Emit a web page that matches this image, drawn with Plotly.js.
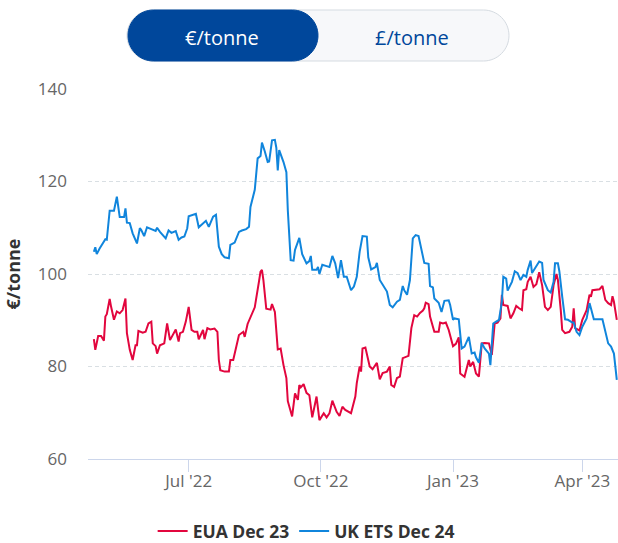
<!DOCTYPE html>
<html>
<head>
<meta charset="utf-8">
<script src="https://cdn.plot.ly/plotly-3.0.1.min.js"></script>
<style>
  html, body { margin: 0; padding: 0; background: #ffffff; }
  #chart { width: 618px; height: 543px; }
</style>
</head>
<body>
<div id="chart"></div>
<script>
// ---- Data ----
const euaName = 'EUA Dec 23';
const ukName = 'UK ETS Dec 24';
const unitButtons = ['€/tonne', '£/tonne'];
const yAxisTitle = '€/tonne';
const yTickValues = [60, 80, 100, 120, 140];
const xTickValues = ['2022-07-01', '2022-10-01', '2023-01-01', '2023-04-01'];
const xTickLabels = ["Jul '22", "Oct '22", "Jan '23", "Apr '23"];

const euaDates = [
 '2022-04-26','2022-04-27','2022-04-29','2022-05-01','2022-05-03','2022-05-04','2022-05-05','2022-05-07','2022-05-08','2022-05-10',
 '2022-05-12','2022-05-14','2022-05-16','2022-05-18','2022-05-19','2022-05-21','2022-05-23','2022-05-25','2022-05-26','2022-05-27',
 '2022-05-30','2022-06-01','2022-06-03','2022-06-05','2022-06-06','2022-06-08','2022-06-09','2022-06-11','2022-06-14','2022-06-16',
 '2022-06-18','2022-06-20','2022-06-22','2022-06-24','2022-06-25','2022-06-27','2022-06-29','2022-07-01','2022-07-03','2022-07-05',
 '2022-07-07','2022-07-08','2022-07-11','2022-07-12','2022-07-14','2022-07-16','2022-07-19','2022-07-21','2022-07-22','2022-07-23',
 '2022-07-26','2022-07-29','2022-07-30','2022-08-01','2022-08-03','2022-08-05','2022-08-08','2022-08-09','2022-08-11','2022-08-14',
 '2022-08-16','2022-08-19','2022-08-20','2022-08-21','2022-08-22','2022-08-24','2022-08-27','2022-08-28','2022-08-30','2022-09-01',
 '2022-09-03','2022-09-05','2022-09-07','2022-09-08','2022-09-11','2022-09-13','2022-09-15','2022-09-16','2022-09-17','2022-09-19',
 '2022-09-21','2022-09-23','2022-09-24','2022-09-25','2022-09-27','2022-09-28','2022-09-30','2022-10-03','2022-10-05','2022-10-07',
 '2022-10-09','2022-10-12','2022-10-14','2022-10-16','2022-10-18','2022-10-21','2022-10-22','2022-10-25','2022-10-26','2022-10-28',
 '2022-10-29','2022-10-30','2022-11-01','2022-11-04','2022-11-06','2022-11-09','2022-11-11','2022-11-13','2022-11-16','2022-11-18',
 '2022-11-19','2022-11-21','2022-11-23','2022-11-25','2022-11-27','2022-12-01','2022-12-03','2022-12-05','2022-12-07','2022-12-09',
 '2022-12-11','2022-12-12','2022-12-13','2022-12-15','2022-12-16','2022-12-18','2022-12-19','2022-12-22','2022-12-23','2022-12-25',
 '2022-12-27','2022-12-29','2023-01-01','2023-01-03','2023-01-05','2023-01-06','2023-01-08','2023-01-09','2023-01-12','2023-01-13',
 '2023-01-15','2023-01-17','2023-01-19','2023-01-21','2023-01-23','2023-01-26','2023-01-28','2023-01-30','2023-02-01','2023-02-03',
 '2023-02-04','2023-02-05','2023-02-08','2023-02-10','2023-02-12','2023-02-14','2023-02-16','2023-02-18','2023-02-19','2023-02-21',
 '2023-02-22','2023-02-24','2023-02-26','2023-02-28','2023-03-02','2023-03-04','2023-03-06','2023-03-08','2023-03-10','2023-03-12',
 '2023-03-14','2023-03-15','2023-03-17','2023-03-18','2023-03-20','2023-03-23','2023-03-25','2023-03-26','2023-03-27','2023-03-30',
 '2023-04-01','2023-04-04','2023-04-06','2023-04-07','2023-04-08','2023-04-11','2023-04-13','2023-04-15','2023-04-17','2023-04-19',
 '2023-04-21','2023-04-22','2023-04-23','2023-04-25'
];
const euaValues = [
 85.9,83.6,86.6,86.6,85.6,90.8,91.3,94.6,92.9,90.1,
 91.9,91.5,92.2,94.7,87.2,83.6,81.4,84.6,84.6,87.7,
 87.3,87.5,89.3,89.7,85.0,84.4,82.8,84.6,85.0,89.3,
 85.7,86.8,88.0,85.4,87.2,87.5,89.7,92.9,87.9,87.5,
 87.5,85.9,87.9,85.9,88.3,88.0,88.2,87.5,81.4,79.2,
 78.9,78.9,81.4,81.4,84.3,86.8,87.5,86.4,89.2,91.5,
 92.8,98.5,100.5,100.9,98.7,92.5,92.3,93.5,91.8,83.7,
 83.9,80.3,77.5,72.5,69.2,74.2,72.8,76.0,75.5,76.2,
 74.3,73.8,71.3,69.0,72.0,73.5,68.4,69.9,69.0,69.9,
 72.6,70.2,69.3,71.3,70.6,70.2,69.9,73.5,76.4,80.0,
 78.9,83.9,84.1,80.0,79.4,80.8,77.2,78.6,78.9,80.0,
 76.0,75.6,77.5,77.8,81.8,82.3,88.3,91.1,90.8,91.6,
 92.1,92.6,93.8,93.5,90.8,88.6,87.5,87.5,89.5,89.3,
 89.5,87.9,84.4,84.9,86.3,78.5,77.9,77.8,81.4,80.0,
 81.0,78.5,77.8,85.0,85.1,85.0,82.5,89.3,89.5,90.4,
 95.5,93.3,93.1,90.4,91.5,93.1,92.6,92.2,96.5,96.7,
 98.3,99.4,97.2,97.8,100.4,97.6,92.9,92.2,92.9,97.6,
 100.0,98.7,92.2,87.9,87.2,87.5,88.6,92.6,88.3,87.8,
 90.1,92.2,95.5,95.1,96.5,96.7,96.7,97.4,94.4,93.7,
 93.3,95.2,94.0,90.1
];

const ukDates = [
 '2022-04-26','2022-04-27','2022-04-28','2022-04-30','2022-05-04','2022-05-05','2022-05-07','2022-05-10','2022-05-12','2022-05-14',
 '2022-05-17','2022-05-18','2022-05-19','2022-05-21','2022-05-23','2022-05-26','2022-05-28','2022-05-29','2022-05-31','2022-06-02',
 '2022-06-05','2022-06-08','2022-06-09','2022-06-11','2022-06-15','2022-06-17','2022-06-19','2022-06-22','2022-06-24','2022-06-26',
 '2022-06-28','2022-06-30','2022-07-01','2022-07-04','2022-07-06','2022-07-08','2022-07-11','2022-07-13','2022-07-15','2022-07-18',
 '2022-07-20','2022-07-22','2022-07-24','2022-07-26','2022-07-29','2022-07-30','2022-08-02','2022-08-03','2022-08-05','2022-08-07',
 '2022-08-10','2022-08-12','2022-08-13','2022-08-16','2022-08-18','2022-08-20','2022-08-21','2022-08-23','2022-08-25','2022-08-26',
 '2022-08-28','2022-08-30','2022-08-31','2022-09-01','2022-09-02','2022-09-05','2022-09-07','2022-09-08','2022-09-10','2022-09-12',
 '2022-09-13','2022-09-16','2022-09-18','2022-09-21','2022-09-23','2022-09-24','2022-09-25','2022-09-28','2022-09-29','2022-09-30',
 '2022-10-02','2022-10-05','2022-10-07','2022-10-09','2022-10-11','2022-10-13','2022-10-15','2022-10-17','2022-10-19','2022-10-22',
 '2022-10-24','2022-10-26','2022-10-28','2022-10-30','2022-11-02','2022-11-03','2022-11-05','2022-11-08','2022-11-09','2022-11-11',
 '2022-11-13','2022-11-16','2022-11-18','2022-11-20','2022-11-23','2022-11-25','2022-11-27','2022-11-28','2022-11-30','2022-12-02',
 '2022-12-04','2022-12-06','2022-12-08','2022-12-10','2022-12-12','2022-12-15','2022-12-16','2022-12-18','2022-12-19','2022-12-22',
 '2022-12-24','2022-12-26','2022-12-29','2022-12-30','2023-01-01','2023-01-02','2023-01-05','2023-01-07','2023-01-09','2023-01-12',
 '2023-01-14','2023-01-16','2023-01-17','2023-01-19','2023-01-21','2023-01-23','2023-01-26','2023-01-27','2023-01-29','2023-01-31',
 '2023-02-02','2023-02-04','2023-02-05','2023-02-07','2023-02-08','2023-02-11','2023-02-13','2023-02-15','2023-02-17','2023-02-19',
 '2023-02-21','2023-02-22','2023-02-24','2023-02-25','2023-02-28','2023-03-02','2023-03-04','2023-03-05','2023-03-08','2023-03-10',
 '2023-03-12','2023-03-13','2023-03-15','2023-03-16','2023-03-18','2023-03-20','2023-03-22','2023-03-25','2023-03-26','2023-03-28',
 '2023-03-30','2023-04-01','2023-04-04','2023-04-06','2023-04-07','2023-04-09','2023-04-15','2023-04-17','2023-04-19','2023-04-21',
 '2023-04-23','2023-04-25'
];
const ukValues = [
 104.8,105.8,104.3,105.5,107.5,107.4,113.7,113.7,116.7,112.3,
 112.3,114.2,111.1,111.0,108.8,106.6,109.9,109.5,108.2,110.1,
 109.7,109.3,110.0,109.1,107.7,109.4,108.9,109.3,107.4,107.9,
 108.1,109.9,112.5,112.8,113.0,110.1,111.0,111.5,110.2,112.4,
 112.8,105.9,104.3,103.6,103.4,106.3,106.8,107.7,109.1,109.4,
 109.7,110.2,114.5,118.2,125.0,125.5,128.4,126.5,124.2,124.3,
 128.9,129.0,127.3,122.4,126.8,124.2,122.0,113.8,103.0,102.9,
 105.2,107.8,104.3,102.3,102.8,103.9,100.9,100.9,101.5,100.0,
 102.0,101.7,101.5,103.9,102.3,99.1,103.0,99.4,99.4,96.5,
 97.3,99.4,104.8,108.2,108.1,103.6,101.0,101.5,102.4,98.7,
 97.6,96.2,93.3,92.8,94.0,94.4,97.4,96.5,95.5,98.7,
 107.7,108.4,108.2,105.2,102.4,102.2,97.4,97.1,94.7,93.8,
 91.8,94.2,94.3,93.3,90.1,90.4,90.2,83.9,84.3,86.4,
 82.8,83.0,82.0,80.8,85.1,83.9,82.8,80.3,89.3,89.7,
 90.1,94.0,99.4,99.0,96.4,98.3,100.6,100.2,98.7,99.8,
 99.4,100.9,102.9,100.2,101.6,102.7,102.4,98.7,96.5,96.0,
 98.3,102.3,102.3,100.6,95.1,90.2,90.1,89.5,89.5,87.5,
 86.8,88.6,90.4,93.7,92.6,90.2,90.2,87.5,85.0,84.3,
 82.8,77.1
];

// ---- Styling ----
const RED = '#e2063e';
const BLUE = '#1085dc';
const NAVY = '#00479b';
const FONT = '"Open Sans", "Noto Sans", sans-serif';

// rounded pill path centred on (0,0), in pixels
function pill(w, h) {
  const r = h / 2, s = w / 2 - r, k = 0.5523 * r;
  return 'M ' + (-s) + ',' + (-r) +
    ' L ' + s + ',' + (-r) +
    ' C ' + (s + k) + ',' + (-r) + ' ' + (s + r) + ',' + (-k) + ' ' + (s + r) + ',0' +
    ' C ' + (s + r) + ',' + k + ' ' + (s + k) + ',' + r + ' ' + s + ',' + r +
    ' L ' + (-s) + ',' + r +
    ' C ' + (-s - k) + ',' + r + ' ' + (-s - r) + ',' + k + ' ' + (-s - r) + ',0' +
    ' C ' + (-s - r) + ',' + (-k) + ' ' + (-s - k) + ',' + (-r) + ' ' + (-s) + ',' + (-r) + ' Z';
}

const traces = [
  { x: euaDates, y: euaValues, name: euaName, type: 'scatter', mode: 'lines',
    line: { color: RED, width: 2 } },
  { x: ukDates, y: ukValues, name: ukName, type: 'scatter', mode: 'lines',
    line: { color: BLUE, width: 2 } }
];

const layout = {
  width: 618, height: 543,
  margin: { l: 88, r: 0, t: 89, b: 84 },
  paper_bgcolor: '#ffffff', plot_bgcolor: '#ffffff',
  font: { family: FONT, size: 17, color: '#666666' },
  showlegend: true,
  legend: {
    orientation: 'h', xref: 'container', yref: 'container',
    x: 0.247, xanchor: 'left', y: 0.022, yanchor: 'middle',
    font: { family: FONT, size: 17.5, color: '#333333', weight: 'bold' },
    itemclick: false, itemdoubleclick: false
  },
  xaxis: {
    type: 'date',
    range: ['2022-04-21 22:00', '2023-04-25 20:00'],
    tickvals: xTickValues, ticktext: xTickLabels,
    showgrid: false, zeroline: false,
    showline: true, linecolor: '#ccd6eb', linewidth: 1,
    ticks: 'outside', ticklen: 12, tickcolor: '#ccd6eb', tickwidth: 1,
    ticklabelstandoff: -5,
    tickfont: { family: FONT, size: 17, color: '#666666' },
    fixedrange: true
  },
  yaxis: {
    range: [60, 140],
    tickvals: yTickValues,
    showgrid: true, gridcolor: '#d9dfe3', griddash: '4px,3px', gridwidth: 1,
    zeroline: false, showline: false, ticks: '',
    ticklabelstandoff: 20,
    tickfont: { family: FONT, size: 17, color: '#666666' },
    title: { text: yAxisTitle, standoff: 12,
             font: { family: FONT, size: 18, color: '#333333', weight: 'bold' } },
    fixedrange: true
  },
  shapes: [
    { type: 'path', xref: 'paper', yref: 'paper', layer: 'above',
      xsizemode: 'pixel', ysizemode: 'pixel', xanchor: (318 - 88) / 530, yanchor: (459 - 35.5) / 370,
      path: pill(382, 51), fillcolor: '#f7f8fa', line: { color: '#d5dbe1', width: 1 } },
    { type: 'path', xref: 'paper', yref: 'paper', layer: 'above',
      xsizemode: 'pixel', ysizemode: 'pixel', xanchor: (223 - 88) / 530, yanchor: (459 - 35.5) / 370,
      path: pill(190, 51), fillcolor: NAVY, line: { color: NAVY, width: 1 } }
  ],
  annotations: [
    { text: unitButtons[0], xref: 'paper', yref: 'paper', x: (222 - 88) / 530, y: (459 - 37) / 370,
      xanchor: 'center', yanchor: 'middle', showarrow: false,
      font: { family: FONT, size: 20, color: '#ffffff' } },
    { text: unitButtons[1], xref: 'paper', yref: 'paper', x: (412 - 88) / 530, y: (459 - 37) / 370,
      xanchor: 'center', yanchor: 'middle', showarrow: false,
      font: { family: FONT, size: 20, color: NAVY } }
  ],
  hovermode: 'x unified'
};

Plotly.newPlot('chart', traces, layout, { displayModeBar: false, responsive: false });
</script>
</body>
</html>
